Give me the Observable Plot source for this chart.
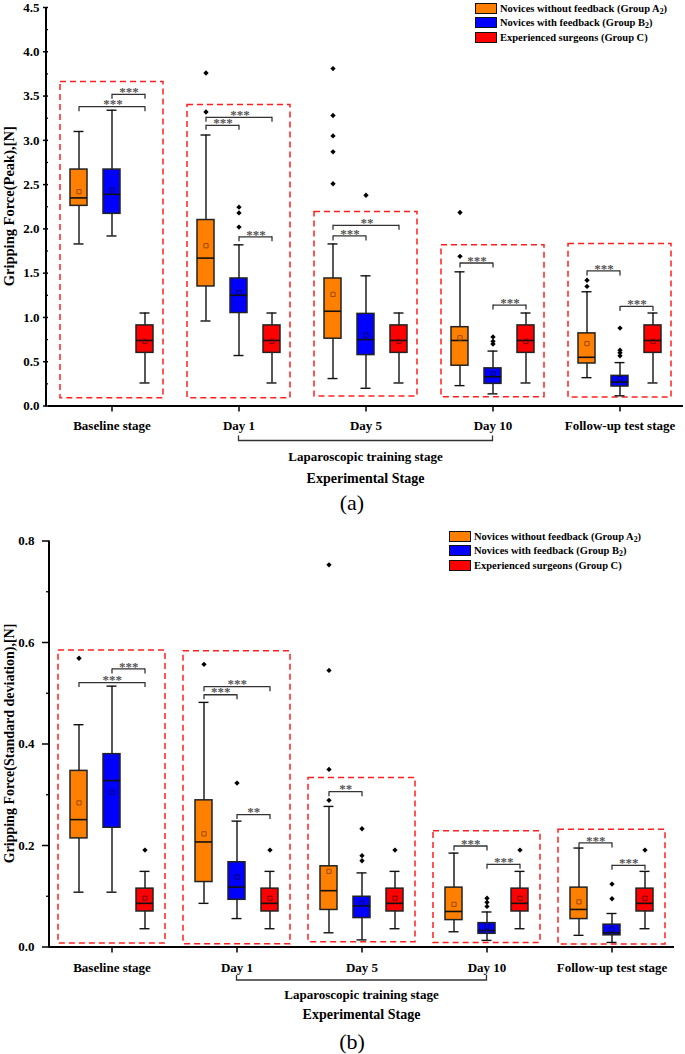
<!DOCTYPE html>
<html>
<head>
<meta charset="utf-8">
<script src="https://cdn.jsdelivr.net/npm/d3@7"></script>
<script src="https://cdn.jsdelivr.net/npm/@observablehq/plot@0.6"></script>
<style>
  html, body { margin: 0; padding: 0; background: #fff; }
  #wrap { position: relative; width: 685px; height: 1054px; overflow: hidden; font-family: "Liberation Serif", "Times New Roman", serif; }
  .panel { position: absolute; left: 0; }
  .cap { position: absolute; left: 0; width: 704px; text-align: center; font-size: 22px; line-height: 22px; color: #000; }
  .legend { position: absolute; font-weight: bold; font-size: 10.5px; color: #000; }
  .legend .row { display: flex; align-items: center; height: 14.5px; }
  .legend .sw { width: 20px; height: 9px; border: 1.4px solid #111; margin-right: 3px; flex: none; }
  .legend sub { font-size: 0.75em; vertical-align: -2px; line-height: 0; }
</style>
</head>
<body>
<div id="wrap">
  <div id="pa" class="panel" style="top:0px"></div>
  <div class="cap" style="top:492px">(a)</div>
  <div id="pb" class="panel" style="top:520px"></div>
  <div class="cap" style="top:1031px">(b)</div>
  <div id="lega" class="legend" style="left:475px; top:1px"></div>
  <div id="legb" class="legend" style="left:449px; top:529px"></div>
</div>
<script>
// ---------- categories ----------
const stages = ["Baseline stage", "Day 1", "Day 5", "Day 10", "Follow-up test stage"];
const groups = ["A", "B", "C"];
const groupColors = ["#ff8000", "#0000ff", "#ff0000"];
const meanColors = ["#9a4a00", "#00006e", "#7a0000"];
const legendLabels = [
  "Novices without feedback (Group A<sub>2</sub>)",
  "Novices with feedback (Group B<sub>2</sub>)",
  "Experienced surgeons (Group C)"
];

// ---------- panel (a): peak gripping force ----------
// per stage: [lower whisker, Q1, median, Q3, upper whisker, mean]
const peakA = [
  [1.83, 2.26, 2.35, 2.67, 3.10, 2.42],
  [0.96, 1.35, 1.67, 2.10, 3.06, 1.81],
  [0.31, 0.76, 1.07, 1.44, 1.83, 1.26],
  [0.23, 0.455, 0.74, 0.89, 1.515, 0.77],
  [0.32, 0.48, 0.55, 0.82, 1.29, 0.705]
];
const peakB = [
  [1.92, 2.17, 2.39, 2.67, 3.34, 2.44],
  [0.57, 1.05, 1.25, 1.44, 1.82, 1.28],
  [0.20, 0.575, 0.75, 1.04, 1.47, 0.80],
  [0.137, 0.25, 0.33, 0.425, 0.62, 0.365],
  [0.115, 0.22, 0.27, 0.34, 0.49, 0.31]
];
const peakC = [
  [0.26, 0.60, 0.74, 0.91, 1.05, 0.73],
  [0.26, 0.60, 0.74, 0.91, 1.05, 0.73],
  [0.26, 0.60, 0.74, 0.91, 1.05, 0.73],
  [0.26, 0.60, 0.74, 0.91, 1.05, 0.73],
  [0.26, 0.60, 0.74, 0.91, 1.05, 0.73]
];
const peakOutliers = [
  ["Day 1", "A", 3.76], ["Day 1", "A", 3.32],
  ["Day 1", "B", 2.245], ["Day 1", "B", 2.18], ["Day 1", "B", 2.02],
  ["Day 5", "A", 3.81], ["Day 5", "A", 3.28], ["Day 5", "A", 3.05], ["Day 5", "A", 2.87], ["Day 5", "A", 2.51],
  ["Day 5", "B", 2.38],
  ["Day 10", "A", 2.185], ["Day 10", "A", 1.69],
  ["Day 10", "B", 0.78], ["Day 10", "B", 0.73], ["Day 10", "B", 0.70],
  ["Follow-up test stage", "A", 1.42], ["Follow-up test stage", "A", 1.35],
  ["Follow-up test stage", "B", 0.88], ["Follow-up test stage", "B", 0.63],
  ["Follow-up test stage", "B", 0.60], ["Follow-up test stage", "B", 0.567]
];
const peakSig = [
  ["Baseline stage", "A", "C", 3.38, "***"],
  ["Baseline stage", "B", "C", 3.52, "***"],
  ["Day 1", "A", "C", 3.26, "***"],
  ["Day 1", "A", "B", 3.17, "***"],
  ["Day 1", "B", "C", 1.91, "***"],
  ["Day 5", "A", "C", 2.04, "**"],
  ["Day 5", "A", "B", 1.92, "***"],
  ["Day 10", "A", "B", 1.615, "***"],
  ["Day 10", "B", "C", 1.14, "***"],
  ["Follow-up test stage", "A", "B", 1.525, "***"],
  ["Follow-up test stage", "B", "C", 1.125, "***"]
];
const peakFrames = [
  ["Baseline stage", 0.088, 3.66],
  ["Day 1", 0.088, 3.40],
  ["Day 5", 0.107, 2.19],
  ["Day 10", 0.10, 1.815],
  ["Follow-up test stage", 0.095, 1.83]
];
const peakTicks = [0, 0.5, 1.0, 1.5, 2.0, 2.5, 3.0, 3.5, 4.0, 4.5];
const peakMinorTicks = [0.25, 0.75, 1.25, 1.75, 2.25, 2.75, 3.25, 3.75, 4.25];

// ---------- panel (b): standard deviation of gripping force ----------
const sdA = [
  [0.108, 0.214, 0.251, 0.347, 0.438, 0.284],
  [0.086, 0.128, 0.207, 0.289, 0.482, 0.223],
  [0.028, 0.073, 0.111, 0.159, 0.277, 0.149],
  [0.030, 0.053, 0.070, 0.117, 0.185, 0.084],
  [0.023, 0.055, 0.074, 0.117, 0.195, 0.089]
];
const sdB = [
  [0.108, 0.235, 0.328, 0.380, 0.514, 0.305],
  [0.056, 0.093, 0.118, 0.167, 0.248, 0.138],
  [0.014, 0.057, 0.081, 0.099, 0.146, 0.086],
  [0.013, 0.026, 0.0325, 0.047, 0.069, 0.040],
  [0.009, 0.023, 0.028, 0.044, 0.066, 0.035]
];
const sdC = [
  [0.036, 0.070, 0.086, 0.115, 0.149, 0.096],
  [0.036, 0.070, 0.086, 0.115, 0.149, 0.096],
  [0.036, 0.070, 0.086, 0.115, 0.149, 0.096],
  [0.036, 0.070, 0.086, 0.115, 0.149, 0.096],
  [0.036, 0.070, 0.086, 0.115, 0.149, 0.096]
];
const sdOutliers = [
  ["Baseline stage", "A", 0.569], ["Baseline stage", "C", 0.191],
  ["Day 1", "A", 0.557], ["Day 1", "B", 0.323], ["Day 1", "C", 0.191],
  ["Day 5", "A", 0.753], ["Day 5", "A", 0.545], ["Day 5", "A", 0.350], ["Day 5", "A", 0.289],
  ["Day 5", "B", 0.233], ["Day 5", "B", 0.180], ["Day 5", "B", 0.170], ["Day 5", "C", 0.191],
  ["Day 10", "B", 0.096], ["Day 10", "B", 0.088], ["Day 10", "B", 0.080], ["Day 10", "C", 0.191],
  ["Follow-up test stage", "B", 0.124], ["Follow-up test stage", "B", 0.095], ["Follow-up test stage", "C", 0.191]
];
const sdSig = [
  ["Baseline stage", "A", "C", 0.521, "***"],
  ["Baseline stage", "B", "C", 0.548, "***"],
  ["Day 1", "A", "C", 0.513, "***"],
  ["Day 1", "A", "B", 0.497, "***"],
  ["Day 1", "B", "C", 0.261, "**"],
  ["Day 5", "A", "B", 0.306, "**"],
  ["Day 10", "A", "B", 0.199, "***"],
  ["Day 10", "B", "C", 0.163, "***"],
  ["Follow-up test stage", "A", "B", 0.205, "***"],
  ["Follow-up test stage", "B", "C", 0.161, "***"]
];
const sdFrames = [
  ["Baseline stage", 0.007, 0.584],
  ["Day 1", 0.0055, 0.583],
  ["Day 5", 0.0095, 0.333],
  ["Day 10", 0.008, 0.228],
  ["Follow-up test stage", 0.005, 0.231]
];
const sdTicks = [0, 0.2, 0.4, 0.6, 0.8];
const sdMinorTicks = [0.1, 0.3, 0.5, 0.7];

const FONT = '"Liberation Serif", "Times New Roman", serif';

function makePanel(cfg) {
  const rows = [];
  [cfg.A, cfg.B, cfg.C].forEach((arr, gi) => arr.forEach((s, si) => rows.push({
    stage: stages[si], group: groups[gi], lo: s[0], q1: s[1], med: s[2], q3: s[3], hi: s[4], mean: s[5]
  })));
  const outl = cfg.outliers.map(([stage, group, v]) => ({stage, group, v}));
  const sig = cfg.sig.map(([stage, g1, g2, y, label]) => ({stage, g1, g2, y, label, pair: g1 + g2}));
  const ends = sig.flatMap(d => [{stage: d.stage, g: d.g1, y: d.y}, {stage: d.stage, g: d.g2, y: d.y}]);
  const frames = cfg.frames.map(([stage, y1, y2]) => ({stage, y1, y2}));
  const facetW = (cfg.width - cfg.marginLeft - cfg.marginRight) / stages.length;
  const step = facetW / 3.75;

  const meanMarks = groups.map((g, gi) => Plot.dot(rows.filter(d => d.group === g), {
    fx: "stage", x: "group", y: "mean", symbol: "square", r: 2.4, fill: "none", stroke: meanColors[gi], strokeWidth: 1
  }));
  const sigText = [["AB", "g1", step / 2], ["BC", "g1", step / 2], ["AC", "g1", step]].map(([pair, key, dx]) =>
    Plot.text(sig.filter(d => d.pair === pair), {
      fx: "stage", x: key, y: "y", text: "label", dx, dy: -2.5, lineAnchor: "middle",
      fill: "#555", fontSize: 13, fontWeight: "bold", fontFamily: FONT
    }));

  const plot = Plot.plot({
    width: cfg.width, height: cfg.height,
    marginTop: cfg.marginTop, marginBottom: cfg.marginBottom,
    marginLeft: cfg.marginLeft, marginRight: cfg.marginRight,
    style: {fontFamily: FONT, fontWeight: "bold", background: "#fff", color: "#000", overflow: "visible"},
    fx: {domain: stages, padding: 0, label: null},
    x: {domain: groups, paddingInner: 0.5, paddingOuter: 0.625, axis: null},
    y: {domain: [0, cfg.yMax]},
    color: {domain: groups, range: groupColors},
    marks: [
      Plot.rect(frames, {fx: "stage", y1: "y1", y2: "y2", insetLeft: cfg.frameInset, insetRight: cfg.frameInset,
        fill: "none", stroke: "#ff1f1f", strokeWidth: 1.5, strokeDasharray: "6,4"}),
      Plot.ruleX(rows, {fx: "stage", x: "group", y1: "lo", y2: "q1", stroke: "#111", strokeWidth: 1.4}),
      Plot.ruleX(rows, {fx: "stage", x: "group", y1: "q3", y2: "hi", stroke: "#111", strokeWidth: 1.4}),
      Plot.tickY(rows, {fx: "stage", x: "group", y: "lo", insetLeft: 3.5, insetRight: 3.5, stroke: "#111", strokeWidth: 1.4}),
      Plot.tickY(rows, {fx: "stage", x: "group", y: "hi", insetLeft: 3.5, insetRight: 3.5, stroke: "#111", strokeWidth: 1.4}),
      Plot.barY(rows, {fx: "stage", x: "group", y1: "q1", y2: "q3", fill: "group", stroke: "#222", strokeWidth: 1.5}),
      Plot.tickY(rows, {fx: "stage", x: "group", y: "med", stroke: "#111", strokeWidth: 1.6}),
      ...meanMarks,
      Plot.dot(outl, {fx: "stage", x: "group", y: "v", symbol: "diamond2", r: 2.4, fill: "#000"}),
      Plot.link(sig, {fx: "stage", x1: "g1", x2: "g2", y1: "y", y2: "y", stroke: "#333", strokeWidth: 1.3}),
      Plot.ruleX(ends, {fx: "stage", x: "g", y1: "y", y2: "y", insetBottom: -5, stroke: "#333", strokeWidth: 1.3}),
      ...sigText,
      Plot.ruleY([0], {stroke: "#000", strokeWidth: 2}),
      Plot.axisY({ticks: cfg.ticks, tickSize: cfg.tickSize, tickPadding: cfg.tickPadding, tickFormat: d3.format(".1f"),
        fontSize: 13, strokeWidth: 1.5, label: null}),
      Plot.axisY({ticks: cfg.minorTicks, tickSize: 3, tickFormat: () => "", strokeWidth: 1.3, label: null}),
      Plot.axisFx({anchor: "bottom", tickSize: 6, tickPadding: cfg.fxPadding, fontSize: 13, strokeWidth: 1.5, label: null})
    ]
  });

  const svg = d3.select(plot);
  const y = plot.scale("y"), fx = plot.scale("fx");
  const y0 = y.apply(0), yTop = y.apply(cfg.yMax);
  // left axis line
  svg.append("line").attr("x1", cfg.marginLeft).attr("x2", cfg.marginLeft)
    .attr("y1", y0 + 1).attr("y2", yTop).attr("stroke", "#000").attr("stroke-width", 2);
  // y-axis title
  svg.append("text").attr("transform", `translate(${cfg.yLabelX},${(y0 + yTop) / 2}) rotate(-90)`)
    .attr("text-anchor", "middle").attr("dominant-baseline", "central")
    .attr("font-size", cfg.yLabelSize).attr("font-weight", "bold").text(cfg.yLabel);
  // training stage bracket
  const c1 = fx.apply("Day 1") + fx.bandwidth / 2;
  const c2 = fx.apply("Day 10") + fx.bandwidth / 2;
  const yb = y0 + cfg.bracketOffset;
  svg.append("path").attr("d", `M${c1},${yb - 5}V${yb}H${c2}V${yb - 5}`)
    .attr("fill", "none").attr("stroke", "#333").attr("stroke-width", 1.3);
  svg.append("text").attr("x", (c1 + c2) / 2).attr("y", y0 + cfg.lapOffset)
    .attr("text-anchor", "middle").attr("dominant-baseline", "central")
    .attr("font-size", 13).attr("font-weight", "bold").text("Laparoscopic training stage");
  svg.append("text").attr("x", (cfg.marginLeft + cfg.width - cfg.marginRight) / 2).attr("y", y0 + cfg.expOffset)
    .attr("text-anchor", "middle").attr("dominant-baseline", "central")
    .attr("font-size", 14).attr("font-weight", "bold").text("Experimental Stage");
  return plot;
}

document.getElementById("pa").appendChild(makePanel({
  A: peakA, B: peakB, C: peakC, outliers: peakOutliers, sig: peakSig, frames: peakFrames,
  ticks: peakTicks, minorTicks: peakMinorTicks, yMax: 4.5, yLabel: "Gripping Force(Peak),[N]",
  yLabelX: 9, yLabelSize: 14.5,
  width: 685, height: 492, marginTop: 7, marginBottom: 86.5, marginLeft: 46, marginRight: 0,
  frameInset: 12, tickSize: 5, tickPadding: 4, fxPadding: 9,
  bracketOffset: 35, lapOffset: 51, expOffset: 73
}));
document.getElementById("pb").appendChild(makePanel({
  A: sdA, B: sdB, C: sdC, outliers: sdOutliers, sig: sdSig, frames: sdFrames,
  ticks: sdTicks, minorTicks: sdMinorTicks, yMax: 0.8, yLabel: "Gripping Force(Standard deviation),[N]",
  yLabelX: 9, yLabelSize: 14,
  width: 685, height: 505, marginTop: 20.5, marginBottom: 78.5, marginLeft: 49, marginRight: 11,
  frameInset: 9, tickSize: 7, tickPadding: 8, fxPadding: 10,
  bracketOffset: 33.5, lapOffset: 48, expOffset: 68
}));

for (const [id] of [["lega"], ["legb"]]) {
  const el = document.getElementById(id);
  groups.forEach((g, i) => {
    const row = document.createElement("div");
    row.className = "row";
    row.innerHTML = `<span class="sw" style="background:${groupColors[i]}"></span><span>${legendLabels[i]}</span>`;
    el.appendChild(row);
  });
}
</script>
</body>
</html>
